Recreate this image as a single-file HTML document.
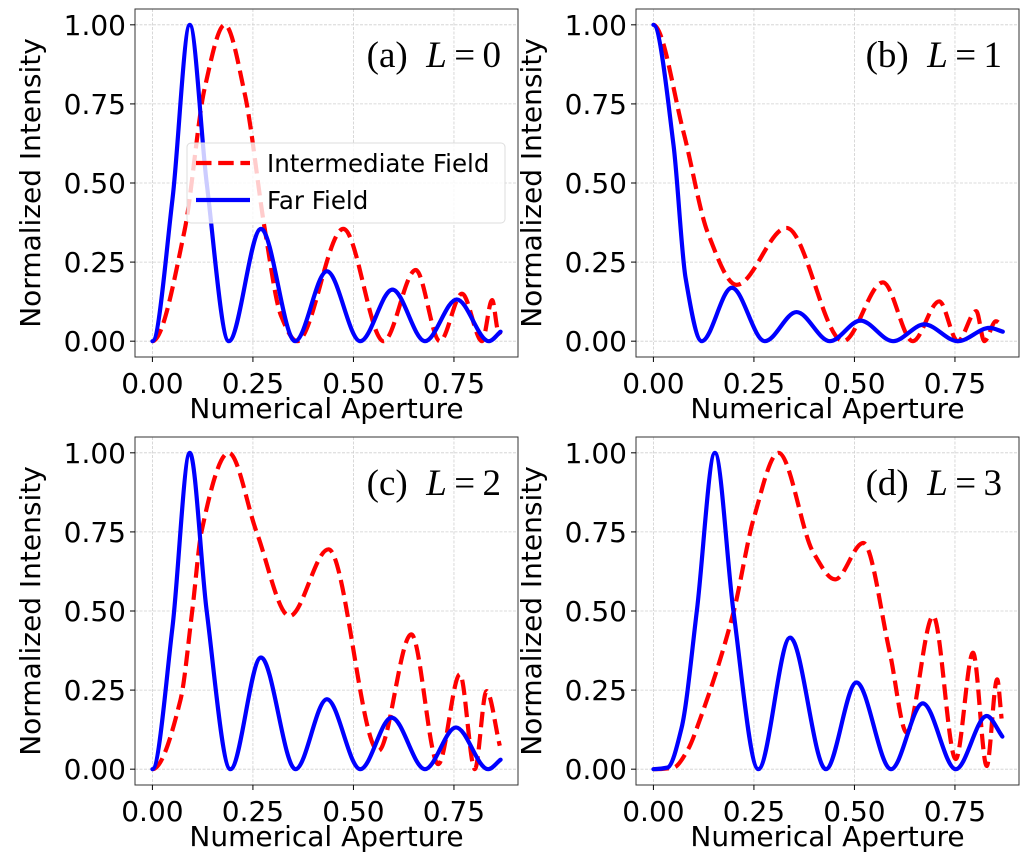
<!DOCTYPE html>
<html><head><meta charset="utf-8"><style>
html,body{margin:0;padding:0;background:#fff;}
svg{display:block;}
text{font-family:"DejaVu Sans","Liberation Sans",sans-serif;}
text.serif{font-family:"Liberation Serif","DejaVu Serif",serif;}
</style></head><body>
<svg id="fig" width="1024" height="859" viewBox="0 0 1024 859" xmlns="http://www.w3.org/2000/svg"></svg>
<script>
// ---- data ----
const xTicks = [0, 0.25, 0.5, 0.75];
const xTickLabels = ["0.00", "0.25", "0.50", "0.75"];
const yTicks = [0, 0.25, 0.5, 0.75, 1.0];
const yTickLabels = ["0.00", "0.25", "0.50", "0.75", "1.00"];
const panelLabels = ["(a)", "(b)", "(c)", "(d)"];
const panelL = ["0", "1", "2", "3"];
const seriesNames = ["Intermediate Field", "Far Field"];

const farAx = [0,0.05,0.093,0.135,0.19,0.27,0.355,0.434,0.517,0.597,0.678,0.757,0.837,0.866];
const farAy = [0,0.45,1.0,0.5,0,0.355,0,0.221,0,0.163,0,0.132,0,0.03];
const intAx = [0,0.08,0.13,0.18,0.23,0.28,0.32,0.36,0.475,0.575,0.655,0.715,0.77,0.82,0.845,0.86,0.866];
const intAy = [0,0.35,0.8,1.0,0.78,0.35,0.08,0,0.355,0,0.225,0,0.15,0,0.13,0.03,0.02];

const farBx = [0,0.05,0.08,0.12,0.195,0.277,0.356,0.439,0.515,0.596,0.674,0.757,0.836,0.869];
const farBy = [1.0,0.62,0.2,0,0.169,0,0.092,0,0.065,0,0.053,0,0.042,0.03];
const intBx = [0,0.075,0.136,0.207,0.331,0.472,0.571,0.645,0.711,0.757,0.803,0.823,0.852,0.866];
const intBy = [1.0,0.66,0.34,0.178,0.358,0,0.186,0,0.126,0,0.095,0,0.063,0.05];

const farCx = [0,0.05,0.093,0.135,0.194,0.27,0.356,0.434,0.517,0.595,0.678,0.755,0.835,0.866];
const farCy = [0,0.45,1.0,0.5,0,0.353,0,0.221,0,0.163,0,0.132,0,0.03];
const intCx = [0,0.07,0.099,0.122,0.19,0.259,0.341,0.438,0.562,0.644,0.711,0.765,0.802,0.831,0.864];
const intCy = [0,0.22,0.5,0.75,1.0,0.75,0.484,0.695,0.058,0.426,0.016,0.3,0,0.247,0.074];

const farDx = [0,0.035,0.07,0.108,0.153,0.199,0.261,0.34,0.429,0.505,0.591,0.67,0.752,0.829,0.868];
const farDy = [0,0.005,0.13,0.5,1.0,0.5,0,0.416,0,0.274,0,0.208,0,0.168,0.103];
const intDx = [0,0.05,0.085,0.116,0.199,0.249,0.311,0.398,0.452,0.522,0.588,0.63,0.696,0.752,0.795,0.829,0.855,0.866];
const intDy = [0,0.005,0.06,0.158,0.495,0.79,1.0,0.684,0.6,0.715,0.368,0.116,0.484,0.032,0.368,0.01,0.284,0.16];

const panels = [
  {left:135, top:9, farX:farAx, farY:farAy, intX:intAx, intY:intAy, legend:true},
  {left:636, top:9, farX:farBx, farY:farBy, intX:intBx, intY:intBy},
  {left:135, top:437, farX:farCx, farY:farCy, intX:intCx, intY:intCy},
  {left:636, top:437, farX:farDx, farY:farDy, intX:intDx, intY:intDy}
];
const W = 383, H = 348, XMIN = -0.0433, XMAX = 0.9093, YMIN = -0.05, YMAX = 1.05;
const NS = "http://www.w3.org/2000/svg";
const svg = document.getElementById('fig');
function mk(tag, attrs, parent, txt) {
  const e = document.createElementNS(NS, tag);
  for (const k in attrs) e.setAttribute(k, attrs[k]);
  if (txt !== undefined) e.textContent = txt;
  parent.appendChild(e);
  return e;
}
// monotone cubic (Fritsch-Carlson), zero slope at NA=0
function pathFrom(xs, ys, sx, sy) {
  const n = xs.length;
  const X = xs.map(sx), Y = ys.map(sy);
  const d = [], m = new Array(n);
  for (let i = 0; i < n - 1; i++) d.push((Y[i + 1] - Y[i]) / (X[i + 1] - X[i]));
  m[0] = 0; m[n - 1] = d[n - 2];
  for (let i = 1; i < n - 1; i++) {
    if (d[i - 1] * d[i] <= 0) m[i] = 0;
    else {
      const h0 = X[i] - X[i - 1], h1 = X[i + 1] - X[i];
      const w1 = 2 * h1 + h0, w2 = h1 + 2 * h0;
      m[i] = (w1 + w2) / (w1 / d[i - 1] + w2 / d[i]);
    }
  }
  let s = "M" + X[0].toFixed(2) + "," + Y[0].toFixed(2);
  for (let i = 0; i < n - 1; i++) {
    const h = X[i + 1] - X[i];
    s += " C" + (X[i] + h / 3).toFixed(2) + "," + (Y[i] + m[i] * h / 3).toFixed(2) + " " +
      (X[i + 1] - h / 3).toFixed(2) + "," + (Y[i + 1] - m[i + 1] * h / 3).toFixed(2) + " " +
      X[i + 1].toFixed(2) + "," + Y[i + 1].toFixed(2);
  }
  return s;
}
panels.forEach((P, idx) => {
  const sx = v => P.left + (v - XMIN) / (XMAX - XMIN) * W;
  const sy = v => P.top + H - (v - YMIN) / (YMAX - YMIN) * H;
  const g = mk('g', {}, svg);
  
  
  const clipId = 'clip' + idx;
  const cp = mk('clipPath', {id: clipId}, g);
  mk('rect', {x: P.left, y: P.top, width: W, height: H}, cp);
  const grid = mk('g', {stroke: '#b0b0b0', 'stroke-width': 0.8, 'stroke-dasharray': '3,1.5', opacity: 0.6}, g);
  
  
  xTicks.forEach(t => mk('line', {x1: sx(t), x2: sx(t), y1: P.top, y2: P.top + H}, grid));
  yTicks.forEach(t => mk('line', {x1: P.left, x2: P.left + W, y1: sy(t), y2: sy(t)}, grid));
  const lines = mk('g', {'clip-path': 'url(#' + clipId + ')', fill: 'none', 'stroke-width': 4.2}, g);
  const r = mk('path', {d: pathFrom(P.intX, P.intY, sx, sy), stroke: '#ff0000', 'stroke-dasharray': '15.5,6.7'}, lines);
  
  
  const b = mk('path', {d: pathFrom(P.farX, P.farY, sx, sy), stroke: '#0000ff', 'stroke-linecap': 'round'}, lines);
  
  
  const fr = mk('rect', {x: P.left, y: P.top, width: W, height: H, fill: 'none', stroke: '#333', 'stroke-width': 1}, g);
  
  
  xTicks.forEach((t, i) => {
    mk('line', {x1: sx(t), x2: sx(t), y1: P.top + H, y2: P.top + H + 5, stroke: '#000', 'stroke-width': 1}, g);
    const tl = mk('text', {x: sx(t), y: P.top + H + 36, 'font-size': 28, 'text-anchor': 'middle'}, g, xTickLabels[i]);
    
    
  });
  yTicks.forEach((t, i) => {
    mk('line', {x1: P.left - 5, x2: P.left, y1: sy(t), y2: sy(t), stroke: '#000', 'stroke-width': 1}, g);
    const tl = mk('text', {x: P.left - 9, y: sy(t) + 10, 'font-size': 28, 'text-anchor': 'end'}, g, yTickLabels[i]);
    
    
  });
  const xl = mk('text', {x: P.left + W / 2, y: P.top + H + 61, 'font-size': 28, 'text-anchor': 'middle'}, g, 'Numerical Aperture');
  
  
  const yx = P.left - 95, yy = P.top + H / 2;
  const yl = mk('text', {x: yx, y: yy, 'font-size': 28, 'text-anchor': 'middle', transform: 'rotate(-90 ' + yx + ' ' + yy + ')'}, g, 'Normalized Intensity');
  
  
  const an = mk('text', {x: P.left + W - 17, y: P.top + 58, 'font-size': 37, 'text-anchor': 'end', 'class': 'serif', 'xml:space': 'preserve'}, g);
  
  
  mk('tspan', {}, an, panelLabels[idx] + '\u2002');
  mk('tspan', {'font-style': 'italic'}, an, 'L');
  mk('tspan', {}, an, '\u2009=\u2009' + panelL[idx]);
  if (P.legend) {
    const lg = mk('g', {}, g);
    
    
    mk('rect', {x: 187, y: 143, width: 318, height: 80, rx: 4, fill: 'rgba(255,255,255,0.8)', stroke: '#ddd', 'stroke-width': 1}, lg);
    const e1 = mk('g', {}, lg);
    
    
    mk('line', {x1: 196, x2: 250, y1: 163, y2: 163, stroke: '#ff0000', 'stroke-width': 4.2, 'stroke-dasharray': '15.5,6.7'}, e1);
    mk('text', {x: 267, y: 172, 'font-size': 24.5}, e1, seriesNames[0]);
    const e2 = mk('g', {}, lg);
    
    
    mk('line', {x1: 196, x2: 250, y1: 200, y2: 200, stroke: '#0000ff', 'stroke-width': 4.2}, e2);
    mk('text', {x: 267, y: 209, 'font-size': 24.5}, e2, seriesNames[1]);
  }
});
</script>
</body></html>
